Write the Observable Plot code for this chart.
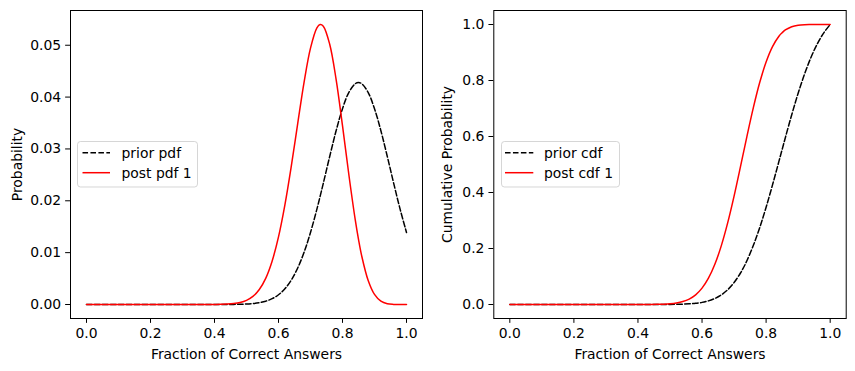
<!DOCTYPE html>
<html><head><meta charset="utf-8">
<script src="https://cdn.jsdelivr.net/npm/d3@7"></script>
<script src="https://cdn.jsdelivr.net/npm/@observablehq/plot@0.6"></script>
<style>
body{margin:0;background:#fff;}
#wrap{position:relative;width:855px;height:371px;font-family:"DejaVu Sans",sans-serif;overflow:hidden;}
#left{position:absolute;left:0;top:0;}
#right{position:absolute;left:425px;top:0;}
.legend{position:absolute;}
svg text{font-family:"DejaVu Sans",sans-serif;}
</style>
</head><body>
<div id="wrap"><div id="left"></div><div id="right"></div></div>
<script>
// Fraction of correct answers (grid points)
const xs = [0, 0.1, 0.2, 0.3, 0.36, 0.38,
  0.40, 0.42, 0.44, 0.46, 0.48, 0.50, 0.52, 0.54, 0.56, 0.58, 0.60, 0.62, 0.64, 0.66, 0.68, 0.70, 0.72, 0.73,
  0.74, 0.76, 0.78, 0.80, 0.82, 0.84, 0.85, 0.86, 0.88, 0.90, 0.92, 0.94, 0.96, 0.98, 1.00];
const priorPdf = [0, 0, 0, 0, 0, 0,
  0.000002, 0.000004, 0.00001, 0.00002, 0.000046, 0.000094, 0.000185, 0.00035, 0.00064, 0.00112, 0.00188, 0.00304, 0.00472, 0.00704, 0.01009, 0.0139, 0.01839, 0.02084,
  0.02337, 0.02855, 0.0335, 0.03777, 0.04092, 0.04259, 0.0428, 0.04259, 0.04092, 0.03777, 0.0335, 0.02855, 0.02337, 0.01839, 0.0139];
const postPdf = [0, 0, 0, 0, 0, 0,
  0.000012, 0.000031, 0.000076, 0.000176, 0.000384, 0.0008, 0.00156, 0.00289, 0.00505, 0.00836, 0.01304, 0.01922, 0.02668, 0.03488, 0.0429, 0.04945, 0.05336, 0.054,
  0.05368, 0.0502, 0.04342, 0.0345, 0.02498, 0.01626, 0.01257, 0.00938, 0.00468, 0.00194, 0.00063, 0.00014, 0.00002, 0, 0];
const priorCdf = [0, 0, 0, 0, 0, 0,
  0, 0.00001, 0.00003, 0.00007, 0.00014, 0.0003, 0.0006, 0.0012, 0.0023, 0.0043, 0.0076, 0.013, 0.0215, 0.0342, 0.0527, 0.0783, 0.1125, 0.1331,
  0.1563, 0.2104, 0.2745, 0.3474, 0.4272, 0.511, 0.5535, 0.5957, 0.6779, 0.7545, 0.8232, 0.8824, 0.9313, 0.9703, 1.0];
const postCdf = [0, 0, 0, 0, 0, 0,
  0.00002, 0.00007, 0.0002, 0.0005, 0.0012, 0.0026, 0.0053, 0.0104, 0.0195, 0.0346, 0.0584, 0.0938, 0.1436, 0.2094, 0.2914, 0.3872, 0.4923, 0.546,
  0.5997, 0.7022, 0.7926, 0.8663, 0.9212, 0.9582, 0.9705, 0.9804, 0.9922, 0.9974, 0.9994, 0.9998, 1.0, 1.0, 1.0];

const xTicks = [0, 0.2, 0.4, 0.6, 0.8, 1.0];
const pdfTicks = [0, 0.01, 0.02, 0.03, 0.04, 0.05];
const cdfTicks = [0, 0.2, 0.4, 0.6, 0.8, 1.0];
const xLabel = "Fraction of Correct Answers";
const pdfLabel = "Probability";
const cdfLabel = "Cumulative Probability";
const pdfNames = ["prior pdf", "post pdf 1"];
const cdfNames = ["prior cdf", "post cdf 1"];

const FS = 13.9;

function panel({a, b, yLabel, yTicks, yFmt, ml, mr, width, labelDx}) {
  const d1 = xs.map((x, i) => ({x, y: a[i]}));
  const d2 = xs.map((x, i) => ({x, y: b[i]}));
  const [lo, hi] = d3.extent(a.concat(b));
  const pad = (hi - lo) * 0.05;
  const [xlo, xhi] = d3.extent(xs);
  const xpad = (xhi - xlo) * 0.05;
  return Plot.plot({
    width, height: 371,
    marginLeft: ml, marginRight: mr, marginTop: 10, marginBottom: 53,
    style: `font-family: 'DejaVu Sans', sans-serif; font-size: ${FS}px; color: #000; background: transparent; overflow: visible;`,
    x: {domain: [xlo - xpad, xhi + xpad]},
    y: {domain: [lo - pad, hi + pad]},
    marks: [
      Plot.axisX({ticks: xTicks, tickFormat: d3.format(".1f"), tickSize: 4.86, tickPadding: 4.5, label: null, fontSize: FS}),
      Plot.axisY({ticks: yTicks, tickFormat: d3.format(yFmt), tickSize: 4.86, tickPadding: 4.5, label: null, fontSize: FS}),
      Plot.lineY(d1, {x: "x", y: "y", stroke: "black", strokeWidth: 1.5, strokeDasharray: "5.55,2.4", curve: "catmull-rom"}),
      Plot.lineY(d2, {x: "x", y: "y", stroke: "#ff0000", strokeWidth: 1.5, curve: "catmull-rom"}),
      Plot.frame({stroke: "black", strokeWidth: 1}),
      Plot.text([xLabel], {frameAnchor: "bottom", dy: 36, lineAnchor: "middle", textAnchor: "middle", text: d => d, fill: "black", fontSize: FS}),
      Plot.text([yLabel], {frameAnchor: "left", dx: labelDx, rotate: -90, lineAnchor: "middle", textAnchor: "middle", text: d => d, fill: "black", fontSize: FS})
    ]
  });
}

function legend(names, left, width, lx1, lx2, tx) {
  const ns = "http://www.w3.org/2000/svg";
  const svg = document.createElementNS(ns, "svg");
  svg.setAttribute("class", "legend");
  svg.setAttribute("width", width);
  svg.setAttribute("height", 47);
  svg.style.left = left + "px";
  svg.style.top = "141px";
  svg.innerHTML = `<rect x="0.5" y="0.5" width="${width - 1}" height="45.5" rx="3" ry="3" fill="white" fill-opacity="0.8" stroke="#cccccc" stroke-opacity="0.8" stroke-width="1"/>`;
  const styles = [{stroke: "black", dash: "5.55,2.4"}, {stroke: "#ff0000", dash: null}];
  names.forEach((n, i) => {
    const y = 11.7 + i * 20;
    const line = document.createElementNS(ns, "line");
    line.setAttribute("x1", lx1); line.setAttribute("x2", lx2);
    line.setAttribute("y1", y); line.setAttribute("y2", y);
    line.setAttribute("stroke", styles[i].stroke); line.setAttribute("stroke-width", 1.5);
    if (styles[i].dash) line.setAttribute("stroke-dasharray", styles[i].dash);
    svg.appendChild(line);
    const t = document.createElementNS(ns, "text");
    t.setAttribute("x", tx); t.setAttribute("y", y); t.setAttribute("dy", "0.36em");
    t.setAttribute("font-family", "DejaVu Sans"); t.setAttribute("font-size", FS + "px");
    t.textContent = n;
    svg.appendChild(t);
  });
  document.getElementById("wrap").appendChild(svg);
}

document.getElementById("left").appendChild(panel({a: priorPdf, b: postPdf, yLabel: pdfLabel, yTicks: pdfTicks, yFmt: ".2f", ml: 70, mr: 3, width: 425, labelDx: -53}));
document.getElementById("right").appendChild(panel({a: priorCdf, b: postCdf, yLabel: cdfLabel, yTicks: cdfTicks, yFmt: ".1f", ml: 68.3, mr: 9.3, width: 430, labelDx: -46.6}));
legend(pdfNames, 77, 121, 5.5, 33, 44.5);
legend(cdfNames, 501, 119, 4, 32.3, 43);
</script>
</body></html>
